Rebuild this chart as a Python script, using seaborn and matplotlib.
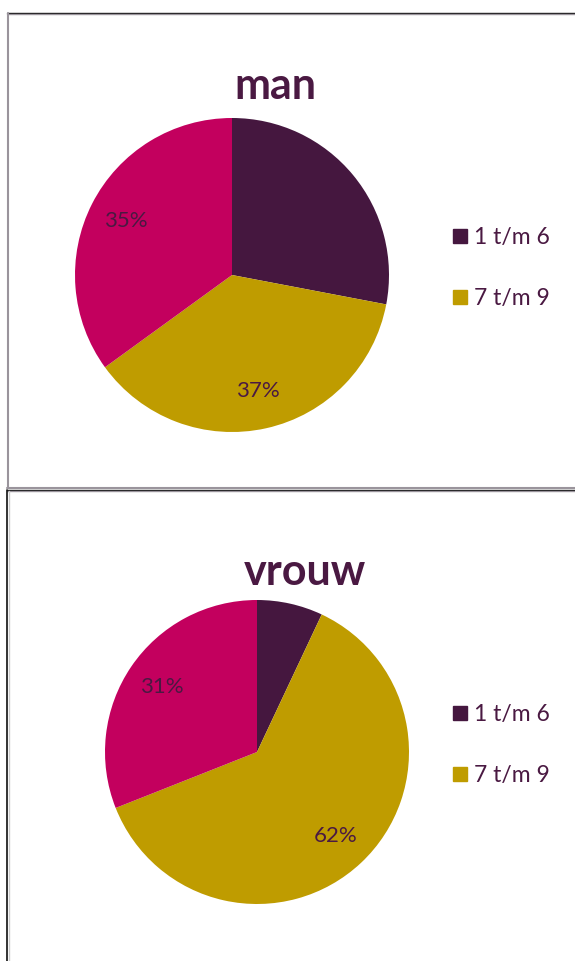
import matplotlib
matplotlib.use('Agg')
import matplotlib.pyplot as plt
import seaborn as sns
from matplotlib.lines import Line2D

# data
categories = ['1 t/m 6', '7 t/m 9', 'overig']
man_values = [28, 37, 35]
vrouw_values = [7, 62, 31]
show_pct = [False, True, True]   # de kleinste schijf heeft geen label
legend_labels = ['1 t/m 6', '7 t/m 9']

sns.set_theme(style='white')
plt.rcParams['font.family'] = ['Lato', 'DejaVu Sans']

colors = ['#45173f', '#bf9c00', '#c3005e']
text_color = '#4a1942'

W, H = 575, 961
fig = plt.figure(figsize=(W / 100, H / 100), dpi=100)


def px_axes(left, top, right, bottom):
    return fig.add_axes([left / W, 1 - bottom / H, (right - left) / W, (bottom - top) / H])


def draw_panel(values, title, pie_box, title_xy, legend_xy):
    ax = px_axes(*pie_box)
    wedges, texts, autotexts = ax.pie(values, colors=colors, startangle=90, counterclock=False,
                                      autopct='%1.0f%%', pctdistance=0.76,
                                      wedgeprops=dict(linewidth=0))
    for t, show in zip(autotexts, show_pct):
        t.set_color(text_color)
        t.set_fontsize(16)
        if not show:
            t.set_text('')
    ax.set_xlim(-1, 1)
    ax.set_ylim(-1, 1)
    ax.axis('off')

    fig.text(title_xy[0] / W, 1 - title_xy[1] / H, title, ha='center', va='center',
             fontsize=31, fontweight='bold', color=text_color)

    handles = [Line2D([], [], marker='s', linestyle='', markersize=9.5, color=c) for c in colors[:2]]
    leg = fig.legend(handles, legend_labels, loc='upper left',
                     bbox_to_anchor=(legend_xy[0] / W, 1 - legend_xy[1] / H),
                     frameon=False, fontsize=16.5, labelspacing=1.75,
                     handlelength=0.6, handletextpad=0.3, borderpad=0, borderaxespad=0)
    for t in leg.get_texts():
        t.set_color(text_color)


draw_panel(man_values, 'man', (75, 118, 389, 432), (275, 86), (453, 227))
draw_panel(vrouw_values, 'vrouw', (105, 600, 409, 904), (305, 572), (453, 704))

# kaders rond de grafieken
def hline(y, color, lw=1.5):
    fig.add_artist(Line2D([7 / W, 1], [1 - y / H, 1 - y / H], color=color, linewidth=lw))


def vline(x, y0, y1, color, lw=1.5):
    fig.add_artist(Line2D([x / W, x / W], [1 - y0 / H, 1 - y1 / H], color=color, linewidth=lw))


hline(12.5, '#111111', 1.0)
hline(14, '#9a949c', 1.0)
vline(7.5, 12.5, 488, '#9a949c')
hline(487.5, '#9a949c', 1.5)
hline(490, '#111111', 1.0)
hline(491.5, '#9a949c', 1.0)
vline(7.2, 490, 961, '#111111', 1.2)
vline(8.6, 491, 961, '#cccccc', 1.0)

plt.savefig('out.png', dpi=100)
